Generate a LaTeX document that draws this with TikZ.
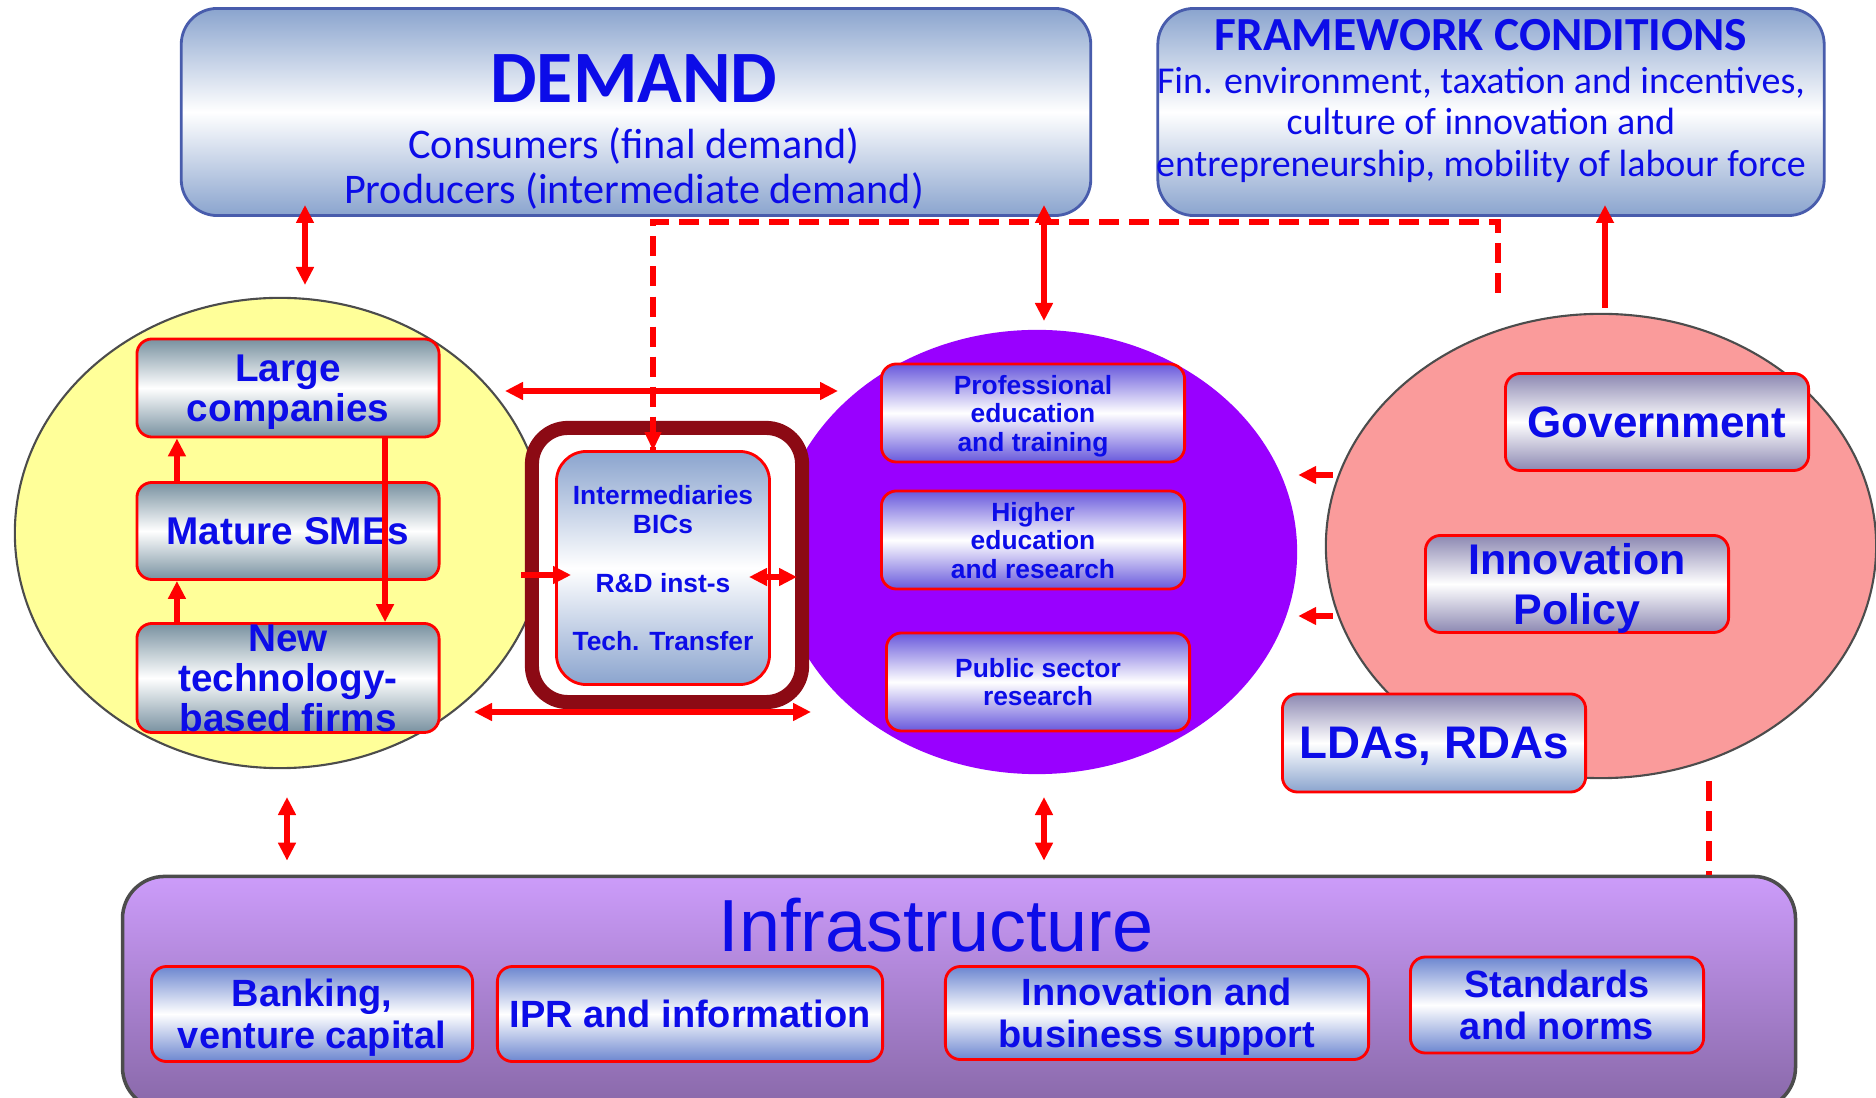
\documentclass[tikz,border=0pt]{standalone}
\usepackage{fontspec}
\setmainfont{Liberation Sans}
\newfontfamily\calfont{Carlito}
\usetikzlibrary{arrows.meta, shapes.geometric}

\definecolor{inkblue}{RGB}{12,12,232}
\definecolor{steelgrad}{RGB}{138,164,206}
\definecolor{boxedge}{RGB}{72,92,172}
\definecolor{firmgrad}{RGB}{120,145,160}
\definecolor{firmfill}{RGB}{255,255,153}
\definecolor{acadfill}{RGB}{153,0,255}
\definecolor{acadgrad}{RGB}{104,88,220}
\definecolor{govfill}{RGB}{250,155,155}
\definecolor{govgrad}{RGB}{140,136,178}
\definecolor{infratop}{RGB}{204,156,250}
\definecolor{infrabot}{RGB}{136,104,168}
\definecolor{infragrad}{RGB}{108,134,208}
\definecolor{framered}{RGB}{140,10,20}

\begin{document}
\begin{tikzpicture}[x=0.01cm, y=-0.01cm,
    every node/.style={inner sep=0pt, align=center, text=inkblue},
    topbox/.style={rectangle, rounded corners=0.36cm, draw=boxedge, line width=0.8pt,
        top color=steelgrad, bottom color=steelgrad, middle color=white},
    subbox/.style={rectangle, rounded corners=0.15cm, draw=red, line width=0.8pt, text depth=0pt},
    firmbox/.style={subbox, minimum width=3.02cm, font=\bfseries\fontsize{11}{11.4}\selectfont,
        top color=firmgrad, bottom color=firmgrad, middle color=white},
    acadbox/.style={subbox, minimum width=3.03cm, minimum height=0.98cm, font=\bfseries\fontsize{7.5}{8.1}\selectfont,
        top color=acadgrad, bottom color=acadgrad, middle color=white},
    govbox/.style={subbox, minimum width=3.03cm, minimum height=0.97cm,
        top color=govgrad, bottom color=govgrad, middle color=white},
    infrabox/.style={subbox, font=\bfseries\fontsize{10.8}{12}\selectfont,
        top color=infragrad, bottom color=infragrad, middle color=white},
    zone/.style={ellipse, draw=black!70, line width=0.6pt},
    arr/.style={red, line width=1.5pt, -{Triangle[length=0.18cm, width=0.17cm]}},
    biarr/.style={red, line width=1.5pt, {Triangle[length=0.18cm, width=0.17cm]}-{Triangle[length=0.18cm, width=0.17cm]}},
    redash/.style={red, line width=1.5pt, dash pattern=on 0.2cm off 0.1cm}]
    \useasboundingbox (0,0) rectangle (1876,1098);

    % Nodes
    \node[topbox, minimum width=9.09cm, minimum height=2.07cm] (demand) at (636,112) {};
    \node[font=\calfont\fontsize{12}{12.8}\selectfont] (demandtxt) at (634,132)
        {{\bfseries\fontsize{21}{24}\selectfont DEMAND}\\[3.4pt] Consumers (final demand)\\ Producers (intermediate demand)};
    \node[topbox, minimum width=6.66cm, minimum height=2.07cm] (frame) at (1491,112) {};
    \node[font=\calfont\fontsize{10.8}{11.8}\selectfont] (frametxt) at (1481,101)
        {{\bfseries\fontsize{13.5}{14}\selectfont FRAMEWORK CONDITIONS}\\[0.4pt] Fin. environment, taxation and incentives,\\ culture of innovation and\\ entrepreneurship, mobility of labour force};

    \node[zone, fill=firmfill, minimum width=5.3cm, minimum height=4.7cm] (firms) at (280,533) {};
    \node[firmbox, minimum height=0.98cm] (large) at (288,388) {Large\\companies};
    \node[firmbox, minimum height=0.97cm] (mature) at (288,531) {Mature SMEs};
    \node[firmbox, minimum height=1.09cm] (newtech) at (288,678) {New\\technology-\\based firms};

    \node[zone, draw=none, fill=acadfill, minimum width=5.2cm, minimum height=4.44cm] (acad) at (1037,552) {};
    \node[acadbox] (prof) at (1033,413) {Professional\\education\\and training};
    \node[acadbox] (higher) at (1033,540) {Higher\\education\\and research};
    \node[acadbox] (public) at (1038,682) {Public sector\\research};

    \node[draw=framered, fill=white, line width=4pt, rounded corners=0.36cm, minimum width=2.7cm, minimum height=2.74cm] (interframe) at (667,565) {};
    \node[subbox, minimum width=2.13cm, minimum height=2.33cm, rounded corners=0.3cm, font=\bfseries\fontsize{7.5}{8.3}\selectfont,
        top color=steelgrad, bottom color=steelgrad, middle color=white] (inter) at (663,568)
        {Intermediaries\\BICs\\[8.3pt]R\&D inst-s\\[8.3pt]Tech. Transfer};

    \node[zone, fill=govfill, minimum width=5.5cm, minimum height=4.64cm] (govzone) at (1601,546) {};
    \node[govbox, font=\bfseries\fontsize{12.5}{14}\selectfont] (gov) at (1657,422) {Government};
    \node[govbox, font=\bfseries\fontsize{12.2}{14}\selectfont] (policy) at (1577,584) {Innovation\\Policy};
    \node[subbox, minimum width=3.03cm, minimum height=0.98cm, font=\bfseries\fontsize{13}{14}\selectfont,
        top color=govgrad, bottom color=steelgrad, middle color=white] (ldas) at (1434,743) {LDAs, RDAs};

    \node[rectangle, rounded corners=0.42cm, draw=black!70, line width=1pt, minimum width=16.72cm, minimum height=2.33cm,
        top color=infratop, bottom color=infrabot] (infra) at (959,993) {};
    \node[font=\fontsize{21}{24}\selectfont] (infratxt) at (936,925) {Infrastructure};
    \node[infrabox, minimum width=3.21cm, minimum height=0.95cm] (bank) at (312,1014) {Banking,\\venture capital};
    \node[infrabox, minimum width=3.85cm, minimum height=0.95cm] (ipr) at (690,1014) {IPR and information};
    \node[infrabox, minimum width=4.23cm, minimum height=0.93cm] (support) at (1157,1013) {Innovation and\\business support};
    \node[infrabox, minimum width=2.93cm, minimum height=0.96cm] (norms) at (1557,1005) {Standards\\and norms};

    % Edges
    \coordinate (firmtop) at (305,285);
    \coordinate (acadtop) at (1044,321);
    \coordinate (govtop) at (1605,308);
    \coordinate (dashend) at (1498,293);
    \coordinate (firmbot) at (287,797);
    \coordinate (acadbot) at (1044,797);
    \coordinate (govbot) at (1709,781);
    \draw[biarr, shorten <=-0.12cm] (demand.south -| firmtop) -- (firmtop);
    \draw[biarr, shorten <=-0.12cm] (demand.south -| acadtop) -- (acadtop);
    \draw[arr, shorten >=-0.12cm] (govtop) -- (govtop |- frame.south);
    \draw[redash] (dashend) -- ([yshift=-0.05cm]dashend |- demand.south) -| ([xshift=-0.1cm]inter.north);
    \draw[red, -{Triangle[length=0.18cm, width=0.17cm]}] ([xshift=-0.1cm, yshift=0.3cm]inter.north) -- ([xshift=-0.1cm]inter.north);
    \draw[redash] (govbot) -- (govbot |- infra.north);

    \coordinate (upper1) at (505,391);
    \coordinate (upper2) at (838,391);
    \coordinate (lower1) at (474,712);
    \coordinate (lower2) at (811,712);
    \coordinate (mid1) at (521,575);
    \coordinate (mid2) at (749,577);
    \coordinate (mid3) at (797,577);
    \draw[biarr] (upper1) -- (upper2);
    \draw[biarr] (lower1) -- (lower2);
    \draw[arr, shorten >=-0.16cm] (mid1) -- (mid1 -| inter.west);
    \draw[biarr] (mid2) -- (mid3);

    \coordinate (pol1) at (1333,475);
    \coordinate (pol2) at (1333,616);
    \draw[arr] (pol1) -- (pol1 -| acad.east);
    \draw[arr] (pol2) -- (pol2 -| acad.east);

    \draw[biarr, shorten >=0.14cm] (firmbot) -- (firmbot |- infra.north);
    \draw[biarr, shorten >=0.14cm] (acadbot) -- (acadbot |- infra.north);

    \draw[arr] ([xshift=-1.11cm]mature.north) -- ([xshift=-1.11cm]large.south);
    \draw[arr] ([xshift=-1.11cm]newtech.north) -- ([xshift=-1.11cm]mature.south);
    \draw[arr] ([xshift=0.97cm]large.south) -- ([xshift=0.97cm]newtech.north);
\end{tikzpicture}
\end{document}
